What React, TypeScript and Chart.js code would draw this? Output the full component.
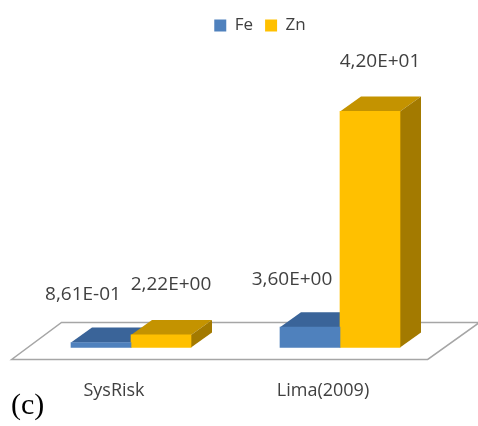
import React, { useEffect, useRef } from "react";
import { Chart, registerables } from "chart.js";

Chart.register(...registerables);

// ---- data ----
const categories = ["SysRisk", "Lima(2009)"];
const seriesNames = ["Fe", "Zn"];
const feValues = [0.861, 3.6];
const znValues = [2.22, 42.0];
const panelTag = "(c)";

// ---- styling ----
const FONT = "'Open Sans', sans-serif";
const TEXT = "#404040";
const faceColors = [
  { front: "#4F81BD", top: "#3A6499", side: "#2F527D" },
  { front: "#FFC000", top: "#C49300", side: "#A37A00" },
];
const DEPTH_X = 21; // horizontal run of a bar's depth
const DEPTH_Y = 15; // vertical rise of a bar's depth
const FLOOR_FRONT = 12; // floor margin in front of the bars
const FLOOR_BACK = 10; // floor margin behind the bars
const labelShift = [
  { dx: -18, dy: -48 },
  { dx: 10, dy: -50 },
];

const sci = (v: number) => {
  const [m, e] = v.toExponential(2).split("e");
  const n = parseInt(e, 10);
  const sign = n < 0 ? "-" : "+";
  return `${m.replace(".", ",")}E${sign}${String(Math.abs(n)).padStart(2, "0")}`;
};

// Floor plus the top and side faces of each box, painted under the front faces
const bars3d = {
  id: "bars3d",
  beforeDatasetsDraw(chart: any) {
    const { ctx } = chart;
    const xs = chart.scales.x;
    const ys = chart.scales.y;
    const base = ys.getPixelForValue(0);
    const step = xs.getPixelForValue(1) - xs.getPixelForValue(0);
    const left = xs.getPixelForValue(0) - step / 2;
    const right = xs.getPixelForValue(categories.length - 1) + step / 2;
    const slope = DEPTH_X / DEPTH_Y;
    const fy = base + FLOOR_FRONT;
    const backRise = DEPTH_Y + FLOOR_BACK;
    const by = base - backRise;

    ctx.save();
    ctx.beginPath();
    ctx.moveTo(left - FLOOR_FRONT * slope + 2, fy);
    ctx.lineTo(right - FLOOR_FRONT * slope, fy);
    ctx.lineTo(right + backRise * slope, by);
    ctx.lineTo(left + backRise * slope, by);
    ctx.closePath();
    ctx.fillStyle = "#ffffff";
    ctx.fill();
    ctx.strokeStyle = "#A6A6A6";
    ctx.lineWidth = 1.5;
    ctx.stroke();

    for (let i = 0; i < categories.length; i++) {
      chart.data.datasets.forEach((_: any, d: number) => {
        const el = chart.getDatasetMeta(d).data[i];
        if (!el) return;
        const { x, y, width } = el.getProps(["x", "y", "width"], true);
        const x0 = x - width / 2;
        const x1 = x + width / 2;
        ctx.fillStyle = faceColors[d].top;
        ctx.beginPath();
        ctx.moveTo(x0, y);
        ctx.lineTo(x1, y);
        ctx.lineTo(x1 + DEPTH_X, y - DEPTH_Y);
        ctx.lineTo(x0 + DEPTH_X, y - DEPTH_Y);
        ctx.closePath();
        ctx.fill();
        ctx.fillStyle = faceColors[d].side;
        ctx.beginPath();
        ctx.moveTo(x1, y);
        ctx.lineTo(x1 + DEPTH_X, y - DEPTH_Y);
        ctx.lineTo(x1 + DEPTH_X, base - DEPTH_Y);
        ctx.lineTo(x1, base);
        ctx.closePath();
        ctx.fill();
      });
    }
    ctx.restore();
  },
  afterDatasetsDraw(chart: any) {
    const { ctx } = chart;
    ctx.save();
    ctx.font = `19px ${FONT}`;
    ctx.fillStyle = TEXT;
    ctx.textAlign = "center";
    ctx.textBaseline = "middle";
    chart.data.datasets.forEach((ds: any, d: number) => {
      chart.getDatasetMeta(d).data.forEach((el: any, i: number) => {
        const { x, y } = el.getProps(["x", "y"], true);
        ctx.fillText(sci(ds.data[i]), x + labelShift[d].dx, y + labelShift[d].dy);
      });
    });
    ctx.font = `30px 'Liberation Serif', serif`;
    ctx.fillStyle = "#000000";
    ctx.textAlign = "left";
    ctx.textBaseline = "alphabetic";
    ctx.fillText(panelTag, 11, 414);
    ctx.restore();
  },
};

export default function App() {
  const ref = useRef<HTMLCanvasElement | null>(null);

  useEffect(() => {
    if (!ref.current) return;
    const chart = new Chart(ref.current, {
      type: "bar",
      data: {
        labels: categories,
        datasets: [
          {
            label: seriesNames[0],
            data: feValues,
            backgroundColor: faceColors[0].front,
            barThickness: 60,
            clip: false as any,
          },
          {
            label: seriesNames[1],
            data: znValues,
            backgroundColor: faceColors[1].front,
            barThickness: 60,
            clip: false as any,
          },
        ],
      },
      options: {
        animation: false,
        responsive: false,
        layout: { padding: { left: 131, right: 89, top: 5, bottom: -9 } },
        plugins: {
          legend: {
            position: "top",
            labels: {
              boxWidth: 12,
              boxHeight: 12,
              padding: 12,
              color: TEXT,
              font: { family: FONT, size: 17 },
            },
          },
          tooltip: { enabled: false },
        },
        scales: {
          x: {
            offset: false,
            grid: { display: false, drawTicks: false },
            border: { display: false },
            ticks: {
              color: TEXT,
              font: { family: FONT, size: 18 },
              padding: 33,
              labelOffset: -17,
              maxRotation: 0,
            },
          },
          y: {
            position: "right",
            min: 0,
            max: 54,
            grid: { display: false, drawTicks: false },
            border: { display: false },
            ticks: { display: false },
            afterFit: (s: any) => {
              s.width = 49;
            },
          },
        },
      },
      plugins: [bars3d],
    });
    return () => chart.destroy();
  }, []);

  return (
    <div style={{ position: "absolute", left: 0, top: 0, width: 478, height: 426, background: "#fff" }}>
      <canvas ref={ref} width={478} height={426} />
    </div>
  );
}
